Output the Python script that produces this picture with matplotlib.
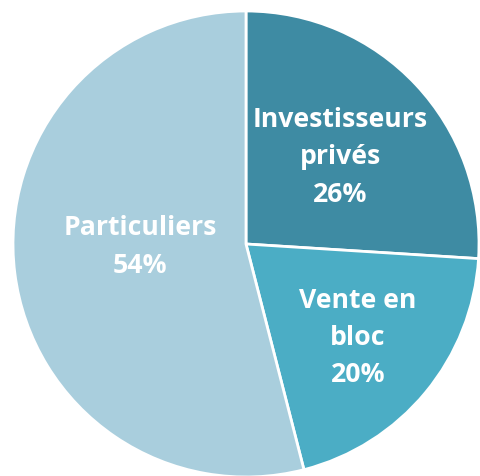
import matplotlib.pyplot as plt

plt.rcParams['font.family'] = ['Open Sans', 'DejaVu Sans']

# Funding split
labels = ['Investisseurs\nprivés', 'Vente en\nbloc', 'Particuliers']
shares = [26, 20, 54]
colors = ['#3e8ba3', '#4badc5', '#a9cedd']
# label anchor points (pixels, y measured from bottom)
label_xy = [(340, 318.5), (358, 138), (140, 229)]

fig = plt.figure(figsize=(4.8, 4.76), dpi=100)
ax = fig.add_axes([0, 0, 1, 1])

wedges, _ = ax.pie(shares, colors=colors, startangle=90, counterclock=False,
                   center=(246, 232), radius=233,
                   wedgeprops=dict(edgecolor='white', linewidth=2))

for (x, y), lab, val in zip(label_xy, labels, shares):
    ax.text(x, y, f'{lab}\n{val}%', ha='center', va='center', color='white',
            fontsize=19.2, fontweight='bold', linespacing=1.56)

ax.set_aspect('auto')
ax.set_xlim(0, 480)
ax.set_ylim(0, 476)
ax.axis('off')

fig.savefig('out.png', dpi=100)
